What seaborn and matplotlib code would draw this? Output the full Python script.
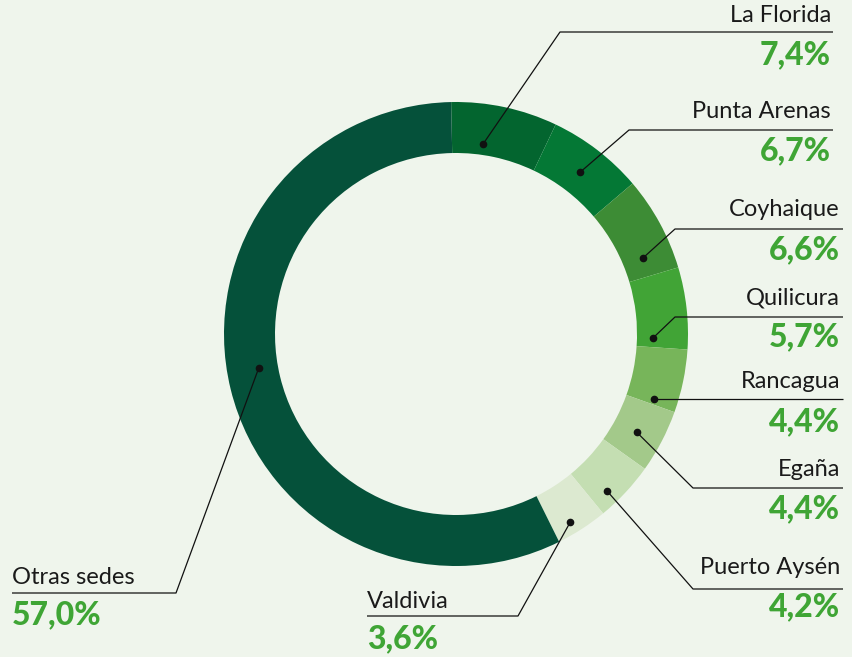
import matplotlib
matplotlib.use("Agg")
import matplotlib.pyplot as plt
import seaborn as sns
import numpy as np

# ---- data ----
sedes = ["La Florida", "Punta Arenas", "Coyhaique", "Quilicura", "Rancagua",
         "Egaña", "Puerto Aysén", "Valdivia", "Otras sedes"]
porcentajes = [7.4, 6.7, 6.6, 5.7, 4.4, 4.4, 4.2, 3.6, 57.0]
etiquetas = ["7,4%", "6,7%", "6,6%", "5,7%", "4,4%", "4,4%", "4,2%", "3,6%", "57,0%"]

# ---- style ----
colores = ["#03652f", "#047835", "#3d8c35", "#41a436", "#77b55a",
           "#a3c98a", "#c4deb2", "#dce9d0", "#05513a"]
BG = "#eff5ec"
GREEN_TXT = "#3fa535"

sns.set_theme(style="white")
plt.rcParams["font.family"] = ["Lato", "DejaVu Sans"]

W, H = 853, 657
fig = plt.figure(figsize=(W / 100, H / 100), dpi=100, facecolor=BG)
ax = fig.add_axes([0, 0, 1, 1])
ax.set_facecolor(BG)

CX, CY = 456, 334          # centre (pixels, y from top)
R_OUT, RING = 232, 51
START = 91.2

wedges, _ = ax.pie(porcentajes, colors=colores, startangle=START, counterclock=False,
                   radius=R_OUT, center=(CX, H - CY), frame=True,
                   wedgeprops=dict(width=RING, edgecolor="none"))
ax.set_xlim(0, W)
ax.set_ylim(0, H)
ax.set_aspect("auto")
ax.axis("off")

# layout per label: fraction along wedge, radius of dot, elbow (x,y), line end x,
# text anchor x, ha, name y, pct y
layout = [
    (0.35, 192, (560, 32), 833, 831, "right", 15, 55),
    (0.50, 204, (629, 130), 833, 831, "right", 112, 151),
    (0.77, 202, (675, 229), 843, 840, "right", 210, 250),
    (0.87, 197, (675, 317), 843, 840, "right", 298, 337),
    (0.90, 208, None, 843, 840, "right", 382, 422),
    (0.56, 206, (693, 488), 843, 840, "right", 470, 509),
    (0.70, 218, (693, 589), 843, 840, "right", 568, 607),
    (0.62, 220, (518, 616), 367, 367, "left", 602, 639),
    (0.52, 200, (176, 593), 12, 12, "left", 578, 615),
]

total = sum(porcentajes)
cum = 0.0
off = 90.0 - START
for i, (name, val, lab) in enumerate(zip(sedes, porcentajes, etiquetas)):
    frac, rd, elbow, xend, xt, ha, yname, ypct = layout[i]
    ang = np.deg2rad((cum + frac * val) / total * 360.0 + off)
    cum += val
    dx = CX + rd * np.sin(ang)
    dy = CY - rd * np.cos(ang)
    if elbow is None:
        pts = [(dx, dy), (xend, dy)]
    else:
        pts = [(dx, dy), elbow, (xend, elbow[1])]
    xs = [p[0] for p in pts]
    ys = [H - p[1] for p in pts]
    ax.plot(xs, ys, color="#111111", lw=0.9, solid_capstyle="butt", zorder=3)
    ax.plot([dx], [H - dy], "o", color="#111111", ms=4.5, zorder=4)
    ax.text(xt, H - yname, name, ha=ha, va="center", fontsize=17,
            color="#1a1a1a", zorder=5)
    ax.text(xt, H - ypct, lab, ha=ha, va="center", fontsize=23,
            fontweight=900, color=GREEN_TXT, zorder=5)

fig.savefig("out.png", dpi=100, facecolor=BG)
